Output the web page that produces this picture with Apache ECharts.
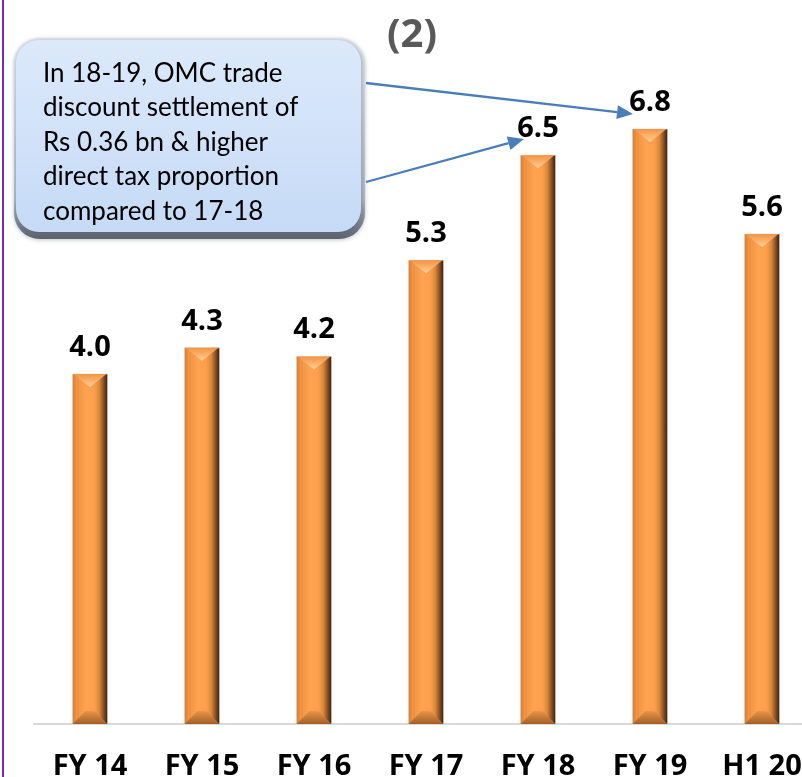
<!DOCTYPE html>
<html>
<head>
<meta charset="utf-8">
<script src="https://cdn.jsdelivr.net/npm/echarts@6/dist/echarts.min.js"></script>
<style>
  html, body { margin: 0; padding: 0; background: #ffffff; }
  #chart { width: 802px; height: 777px; }
</style>
</head>
<body>
<div id="chart"></div>
<script>
// Categories and values
const categories = ['FY 14', 'FY 15', 'FY 16', 'FY 17', 'FY 18', 'FY 19', 'H1 20'];
const values = [4.0, 4.3, 4.2, 5.3, 6.5, 6.8, 5.6];

const calloutLines = [
  'In 18-19, OMC trade',
  'discount settlement of',
  'Rs 0.36 bn & higher',
  'direct tax proportion',
  'compared to 17-18'
];

const BOLD_FONT = '"Open Sans", Lato, sans-serif';
const TEXT_FONT = 'Lato, "Open Sans", sans-serif';
const BAR_W = 35;

const chart = echarts.init(document.getElementById('chart'), null, { renderer: 'canvas' });

// Rounded "cylinder" bar with bevelled top and bottom
function renderBar(params, api) {
  const idx = api.value(0);
  const v = api.value(1);
  const top = api.coord([idx, v]);
  const base = api.coord([idx, 0]);
  const cx = top[0];
  const x0 = cx - BAR_W / 2, x1 = cx + BAR_W / 2;
  const y0 = top[1], y1 = base[1];
  const b = 13;
  const body = {
    type: 'linear', x: 0, y: 0, x2: 1, y2: 0,
    colorStops: [
      { offset: 0, color: '#cf7d36' },
      { offset: 0.1, color: '#ec8f40' },
      { offset: 0.38, color: '#ffa350' },
      { offset: 0.62, color: '#fb9f4c' },
      { offset: 0.76, color: '#dd873c' },
      { offset: 0.88, color: '#8a5226' },
      { offset: 1, color: '#2e1a0a' }
    ]
  };
  return {
    type: 'group',
    children: [
      { type: 'rect', shape: { x: x0, y: y0, width: BAR_W, height: y1 - y0 },
        style: { fill: body, stroke: '#d8d0c8', lineWidth: 0.6 } },
      // top bevel highlight
      { type: 'polygon', shape: { points: [[x0 + 1, y0], [x1 - 1, y0], [cx, y0 + b]] },
        style: { fill: { type: 'linear', x: 0, y: 0, x2: 0, y2: 1,
          colorStops: [{ offset: 0, color: '#ee9648' }, { offset: 0.35, color: '#fba75c' }, { offset: 1, color: '#ffd3a0' }] } } },
      // bottom bevel
      { type: 'polygon', shape: { points: [[x0, y1], [x0 + b, y1 - b], [x1 - b, y1 - b], [x1, y1]] },
        style: { fill: { type: 'linear', x: 0, y: 0, x2: 0, y2: 1,
          colorStops: [{ offset: 0, color: '#e99448' }, { offset: 1, color: '#a0602a' }] } } }
    ]
  };
}

// Straight arrow with a filled triangular head
function arrow(x1, y1, x2, y2, color) {
  const ang = Math.atan2(y2 - y1, x2 - x1);
  const L = 16, W = 7;
  const bx = x2 - L * Math.cos(ang), by = y2 - L * Math.sin(ang);
  const px = -Math.sin(ang) * W, py = Math.cos(ang) * W;
  return [
    { type: 'line', shape: { x1: x1, y1: y1, x2: bx, y2: by },
      style: { stroke: color, lineWidth: 2.3 }, z: 20 },
    { type: 'polygon', shape: { points: [[x2, y2], [bx + px, by + py], [bx - px, by - py]] },
      style: { fill: color }, z: 20 }
  ];
}

const option = {
  animation: false,
  backgroundColor: '#ffffff',
  grid: { left: 34, top: 24, width: 784, height: 700, containLabel: false, outerBoundsMode: 'none' },
  xAxis: {
    type: 'category',
    data: categories,
    axisLine: { lineStyle: { color: '#d9d9d9', width: 2 } },
    axisTick: { show: false },
    axisLabel: { color: '#000', fontFamily: BOLD_FONT, fontWeight: 'bold', fontSize: 29, margin: 28 }
  },
  yAxis: { type: 'value', min: 0, max: 8, show: false, splitLine: { show: false } },
  series: [
    {
      type: 'custom',
      renderItem: renderBar,
      data: values.map((v, i) => [i, v]),
      encode: { x: 0, y: 1 },
      z: 2
    },
    {
      type: 'bar',
      data: values,
      barWidth: BAR_W,
      itemStyle: { color: 'transparent' },
      label: {
        show: true, position: 'top', distance: 12,
        color: '#000', fontFamily: BOLD_FONT, fontWeight: 'bold', fontSize: 29,
        formatter: p => p.value.toFixed(1)
      },
      z: 3
    }
  ],
  graphic: [
    // left frame rule
    { type: 'rect', shape: { x: 2, y: 0, width: 2, height: 777 }, style: { fill: '#7030a0' }, z: 10 },
    // panel number
    { type: 'text', x: 412, y: 36, style: { text: '(2)', fill: '#595959', font: 'bold 40px ' + BOLD_FONT,
      textAlign: 'center', textVerticalAlign: 'middle' }, z: 10 },
    // callout box: soft grey rim, then light blue face
    { type: 'rect', shape: { x: 14, y: 38, width: 351, height: 201, r: 26 },
      style: { fill: { type: 'linear', x: 0, y: 0, x2: 0, y2: 1,
        colorStops: [{ offset: 0, color: '#dfe5ec' }, { offset: 0.8, color: '#aeb9c6' }, { offset: 1, color: '#59626d' }] },
        shadowBlur: 4, shadowColor: 'rgba(80,90,100,0.35)', shadowOffsetY: 1 }, z: 15 },
    { type: 'rect', shape: { x: 16, y: 40, width: 345, height: 192, r: 23 },
      style: { fill: { type: 'linear', x: 0, y: 0, x2: 0, y2: 1,
        colorStops: [{ offset: 0, color: '#dce9fb' }, { offset: 1, color: '#c6daf6' }] },
        shadowBlur: 4, shadowColor: 'rgba(60,70,85,0.35)', shadowOffsetX: 1, shadowOffsetY: 1 }, z: 16 },
    { type: 'text', x: 43, y: 56, style: { text: calloutLines.join('\n'), fill: '#000',
      font: '26px ' + TEXT_FONT, lineHeight: 34.5, textAlign: 'left', textVerticalAlign: 'top' }, z: 17 },
    ...arrow(366, 83, 633, 114, '#4a7ebb'),
    ...arrow(366, 182, 524, 139, '#4a7ebb')
  ]
};

chart.setOption(option);
</script>
</body>
</html>
